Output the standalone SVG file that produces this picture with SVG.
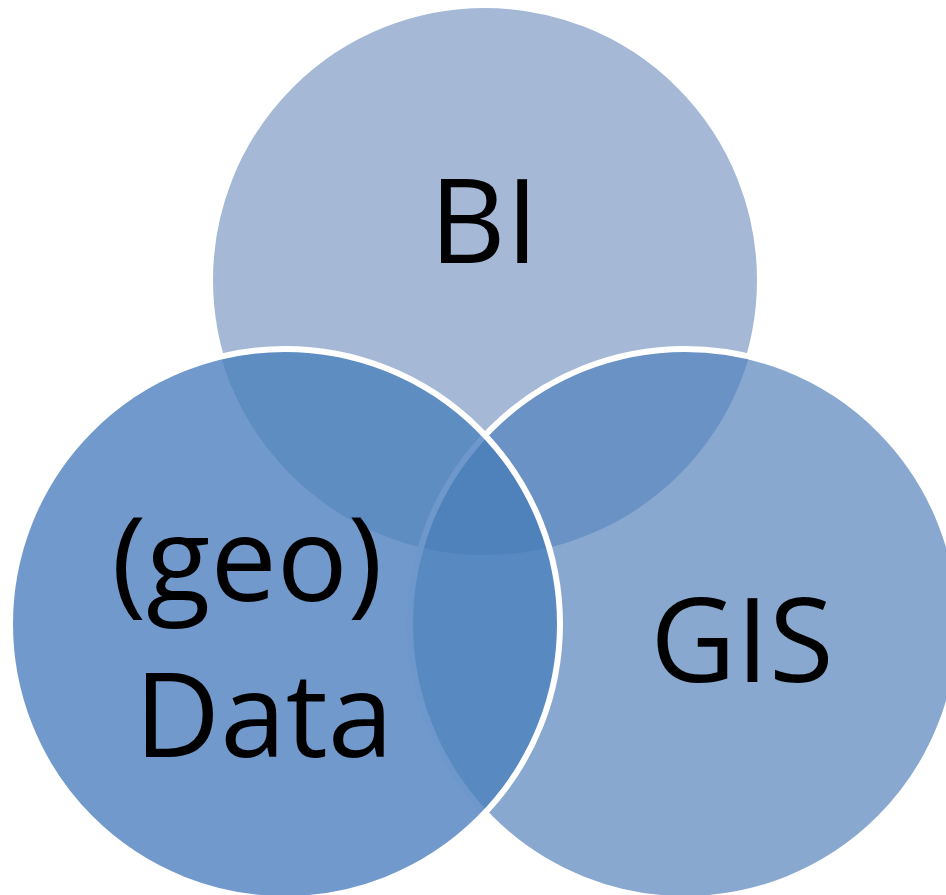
<svg xmlns="http://www.w3.org/2000/svg" width="946" height="895" viewBox="0 0 946 895">
<style>
.lbl{font-family:"Open Sans","Liberation Sans",sans-serif;fill:#000;text-anchor:middle;font-size:118px;font-weight:500}
.edge{fill:none;stroke:#fff;stroke-width:6}
</style>
<defs>
<clipPath id="cT"><circle cx="485" cy="280" r="275"/></clipPath>
<clipPath id="cL"><circle cx="285" cy="624" r="275"/></clipPath>
<clipPath id="cR"><circle cx="685" cy="624" r="275"/></clipPath>
</defs>
<rect width="946" height="895" fill="#fff"/>
<g id="bi">
<circle cx="485" cy="280" r="275" fill="#A5B9D7" stroke="#fff" stroke-width="6"/>
</g>
<g id="gis">
<circle cx="685" cy="624" r="275" fill="#89A8CF"/>
<circle cx="685" cy="624" r="275" fill="#6A92C4" clip-path="url(#cT)"/>
<circle cx="685" cy="624" r="275" class="edge"/>
</g>
<g id="data">
<circle cx="285" cy="624" r="275" fill="#7299CB"/>
<g clip-path="url(#cL)">
<circle cx="485" cy="280" r="275" fill="#5E8DC2"/>
<circle cx="685" cy="624" r="275" fill="#5989C1"/>
<g clip-path="url(#cR)"><circle cx="485" cy="280" r="275" fill="#4F81BB"/></g>
<circle cx="685" cy="624" r="275" fill="none" stroke="#6E98CB" stroke-width="6"/>
</g>
<circle cx="285" cy="624" r="275" class="edge"/>
</g>
<g id="labels">
<text class="lbl" x="484" y="263">BI</text>
<text class="lbl" x="247" y="601">(geo)</text>
<text class="lbl" x="264" y="757">Data</text>
<text class="lbl" x="742" y="682">GIS</text>
</g>
</svg>
